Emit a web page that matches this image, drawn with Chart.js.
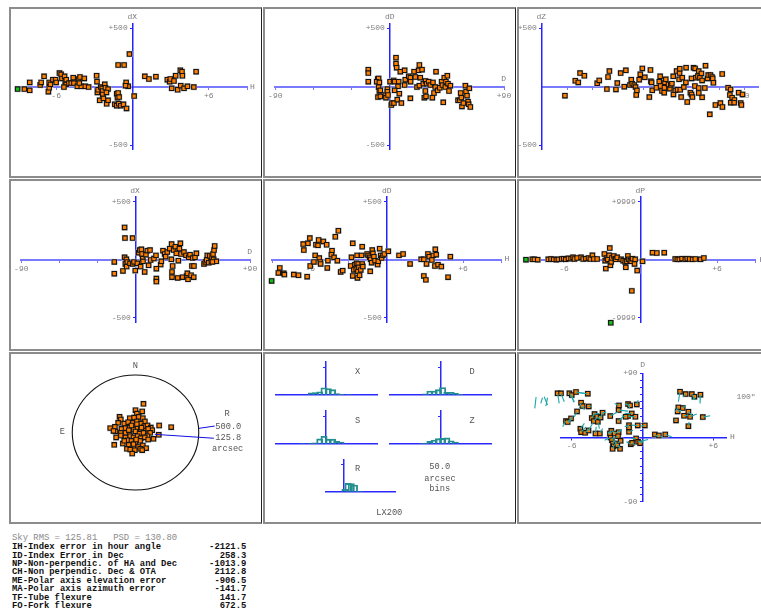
<!DOCTYPE html>
<html><head><meta charset="utf-8">
<script src="https://cdn.jsdelivr.net/npm/chart.js@4.4.1/dist/chart.umd.min.js"></script>
<style>
html,body{margin:0;padding:0;background:#fff}
body{position:relative;width:761px;height:612px;overflow:hidden;font-family:"Liberation Mono","DejaVu Sans Mono",monospace}
.panel{position:absolute;box-sizing:border-box;border-top:2px solid #8c8c8c;border-left:2px solid #8c8c8c;border-bottom:2px solid #8c8c8c;border-right:1px solid #222}
canvas{position:absolute}
.t{position:absolute;transform:translate(-50%,-50%);white-space:pre;line-height:1;color:#7a7a7a;font-size:8px}
.m{color:#555;font-size:8.7px}
#sky{position:absolute;left:12px;top:533.5px;font-size:8.9px;color:#8a8a8a;white-space:pre;line-height:1}
#stats{position:absolute;left:12px;top:543.1px;font-size:8.9px;line-height:8.43px;white-space:pre;color:#111;font-weight:bold}
</style></head><body>
<div id="sky"></div>
<div id="stats"></div>
<script>
// ---------------- DATA ----------------
// Panel 1: dX vs H (hours)
const p1H = [-8.50,-8.08,-8.08,-7.26,-7.18,-6.95,-6.61,-6.55,-6.55,-6.45,-6.26,-6.05,-6.00,-5.74,-5.61,-5.55,-5.34,-5.29,-5.21,-5.39,-5.21,-5.00,-4.82,-4.66,-4.61,-4.34,-4.24,-4.13,-4.03,-4.18,-3.79,-3.71,-3.45,-2.82,-2.79,-2.76,-2.71,-2.50,-2.39,-2.34,-2.18,-2.13,-1.92,-2.58,-2.34,-2.29,-2.05,-2.03,-1.92,-1.39,-1.24,-1.18,-1.13,-1.05,-1.24,-1.08,-0.92,-0.71,-0.47,-1.13,-0.66,-0.24,-0.50,-0.34,-0.55,0.13,0.97,1.29,1.84,2.74,2.92,2.97,3.26,3.39,3.76,3.89,3.92,5.00,3.08,3.55,3.79,4.05,4.32,4.82];
const p1dX = [-20,-31,37,14,37,89,-43,-9,37,20,60,60,37,117,106,71,89,43,20,-3,60,31,31,77,31,3,66,83,3,31,71,3,-3,94,43,-49,-26,-3,-14,-37,20,-9,-20,-117,-66,-100,-49,-146,-117,-151,-60,-94,-54,-89,-163,-146,-163,-151,-186,186,186,280,37,3,9,-80,89,66,86,60,43,66,49,94,140,129,94,129,-14,-26,9,-14,3,-3];
const p1FlagH = [-9.03], p1FlagdX = [-20];
// Panel 2: dD vs D (degrees)
const p2D = [-16.8,-16.8,-16.8,-9.4,-8.7,-10.2,-8.1,-8.7,-8.1,-7.3,-9.2,-7.3,-3.4,-2.9,-1.8,-1.8,-1.3,0.3,1.3,1.8,3.4,3.1,3.9,5.0,5.0,5.5,7.1,6.6,3.9,7.6,6.0,9.2,8.4,11.8,11.8,12.3,15.0,16.3,16.5,16.3,19.2,20.2,21.5,22.8,23.4,23.4,24.1,25.5,26.5,27.3,28.1,28.3,28.6,29.1,30.7,32.0,33.6,34.1,34.9,35.9,36.5,37.8,39.4,40.9,41.5,42.2,43.0,43.8,44.3,45.4,45.9,46.7,47.8,53.8,55.1,55.9,56.9,56.4,58.0,59.6,60.1,60.9,61.7,62.2,62.7,63.5];
const p2dD = [146,117,43,66,71,43,37,-3,-37,-31,-89,-83,-71,-94,-20,-43,-71,43,-157,-140,-140,54,43,249,197,163,43,3,-31,-60,-111,-140,129,140,14,60,89,77,43,-100,129,83,-3,140,186,9,77,146,26,-94,-37,49,-83,26,43,14,-94,37,-54,-3,129,-31,-9,43,14,-134,77,-3,43,94,26,-37,9,-117,-117,-54,-169,-94,-140,9,-43,-77,-129,-151,-14,-174];
// Panel 3: dZ vs zenith distance
const p3Z = [10.3,14.9,16.2,17.0,18.9,24.6,25.5,28.9,29.4,30.0,32.9,33.5,35.0,36.6,37.3,39.1,39.7,40.1,41.0,41.6,41.9,42.2,43.2,43.7,44.6,45.7,47.7,48.2,48.4,48.7,49.0,50.8,52.1,52.5,52.7,53.3,54.3,54.4,54.6,55.0,56.2,56.8,57.2,57.7,58.3,58.4,59.2,59.8,60.2,60.9,61.1,61.2,61.4,61.8,62.3,63.0,64.0,63.9,64.5,65.9,66.4,66.4,66.8,67.3,68.0,67.9,68.3,69.2,69.6,69.6,69.6,70.1,70.8,71.1,71.1,72.3,72.6,73.5,73.8,74.5,74.8,75.5,75.8,76.1,77.0,79.2,80.0,80.1,82.6,83.4,83.7,83.8,84.4,85.4,85.3,87.3,89.0,88.2,88.5];
const p3dZ = [-77,51,37,117,94,29,54,-20,83,134,-23,31,117,0,140,14,60,26,14,-3,-71,-31,60,106,157,80,-89,143,46,37,-31,-9,43,89,6,-37,-51,-9,37,63,20,-17,14,26,89,-66,-31,134,-26,63,117,154,-26,-89,77,-3,163,37,-131,-51,71,-66,-89,163,157,6,77,91,134,-11,-54,77,114,-91,54,-11,180,71,100,-237,100,83,71,34,-157,-140,109,-174,-9,-71,-23,-137,-94,-114,-137,-51,-66,-140,-157];
// Panel 4: dX vs D
const p4D = [-16.8,-16.8,-10.0,-8.7,-8.4,-8.7,-8.1,-7.3,-7.1,-6.6,-4.5,-2.4,-2.4,-1.3,-0.3,1.3,2.4,3.1,3.9,4.5,5.0,5.5,5.8,7.1,8.1,9.2,10.2,11.3,11.8,14.4,16.0,16.3,16.3,16.3,19.7,20.2,21.5,22.8,23.6,24.9,26.8,28.1,28.3,28.6,28.6,29.1,29.9,31.2,32.0,33.1,33.6,34.4,35.2,35.7,37.0,38.0,39.6,40.1,40.7,41.2,41.7,42.8,43.6,44.3,44.9,45.7,45.9,46.7,47.8,53.8,54.8,55.9,56.4,57.5,58.3,59.6,60.1,60.9,61.4,61.7,62.2,63.5,60.4];
const p4dX = [-20,-121,-98,279,187,20,-37,3,-60,-20,-32,-37,187,-20,-95,-32,60,83,-60,89,49,9,-14,-106,43,78,-49,83,-3,9,37,-78,-164,-190,-43,-14,78,49,26,66,95,3,135,-106,-152,-55,83,112,55,-158,-9,95,141,49,-152,66,37,-141,-118,-170,20,43,-135,-55,14,-152,-55,20,55,-37,-20,-3,37,-26,32,-14,20,49,3,83,118,-14,-20];
// Panel 5: dD vs H
const p5H = [-8.50,-8.39,-8.08,-8.03,-7.29,-6.92,-6.55,-6.50,-6.24,-6.18,-6.03,-6.00,-5.71,-5.61,-5.55,-5.39,-5.34,-5.29,-5.21,-5.18,-4.97,-4.71,-4.66,-4.61,-4.29,-4.34,-4.13,-4.03,-3.87,-3.79,-3.61,-3.45,-2.76,-2.66,-2.82,-2.66,-2.58,-2.50,-2.39,-2.37,-2.32,-2.29,-2.26,-2.24,-2.18,-2.13,-2.03,-1.97,-1.92,-1.92,-1.87,-1.53,-1.45,-1.29,-1.34,-1.26,-1.18,-1.13,-1.08,-1.00,-0.92,-0.71,-0.66,-0.55,-0.47,-0.39,-0.29,-0.18,0.13,0.97,1.29,1.84,2.71,2.92,2.92,3.08,3.13,3.24,3.34,3.55,3.66,3.82,3.79,3.89,4.03,4.29,4.82,5.00];
const p5dD = [-115,-72,-118,-129,-129,-135,135,83,-147,141,187,-55,-20,37,129,124,170,14,-20,-37,158,129,-72,-9,78,43,20,198,-9,250,-106,-95,20,141,-55,-141,-89,-43,-83,-32,37,-158,-101,-37,-66,-135,-89,37,112,-37,-60,49,37,-101,20,3,-26,83,55,26,-9,-43,-14,95,37,14,37,49,72,37,49,-37,3,3,-141,-175,-37,49,26,-3,37,89,-55,43,-43,-60,-152,26];
const p5FlagH = [-9.03], p5FlagdD = [-184];
// Panel 6: dP vs H
const p6H = [-8.48,-8.32,-8.06,-7.23,-7.02,-6.81,-6.60,-6.44,-6.18,-6.02,-5.86,-5.65,-5.45,-5.29,-5.18,-4.97,-4.66,-4.50,-4.29,-4.08,-3.93,-3.77,-3.66,-3.40,-2.83,-2.77,-2.72,-2.67,-2.57,-2.41,-2.36,-2.46,-2.30,-2.25,-2.09,-1.99,-1.94,-1.83,-1.52,-1.36,-1.20,-1.15,-1.07,-0.99,-0.94,-0.81,-0.73,-0.63,-0.47,-0.42,-0.26,0.16,-0.68,0.94,1.28,1.86,2.72,2.88,3.04,3.25,3.51,3.66,3.85,4.08,4.29,4.71,4.97];
const p6dP = [57,57,0,57,115,57,0,57,115,172,57,230,172,402,115,287,402,115,172,287,115,747,115,115,977,-172,-1552,287,57,2011,-977,747,-402,287,632,172,57,402,57,-172,-402,-1322,-287,632,57,-172,-287,172,-747,57,-1897,-287,-5402,1207,1149,1207,115,57,57,172,57,172,115,57,115,57,287];
const p6FlagH = [-8.98,-2.33], p6FlagdP = [0,-10919];
// Panel 7: sky scatter (arcsec)
const p7X = [63,0,53,11,-126,-116,-45,-11,26,58,74,-137,-89,-58,-21,11,42,68,95,121,132,187,282,-200,-163,-158,-111,-79,-47,-16,16,42,74,100,116,-174,-116,-79,-47,0,32,63,95,184,142,-153,-116,-79,-42,-16,16,42,74,100,-63,-32,0,37,-100,-168,-53,-16,21,58,84,-68,-42,-5,37,53,-26,-16,5,-53,-32,11,47,-89];
const p7Y = [249,194,183,165,136,113,125,130,136,125,96,84,78,90,84,96,78,55,61,43,20,61,46,38,49,9,32,38,43,26,43,26,14,32,-3,14,-3,-3,3,9,-9,-3,-32,-20,-55,-43,-26,-43,-32,-43,-32,-49,-43,-61,-67,-72,-84,-72,-96,-107,-107,-119,-125,-113,-136,-142,-148,-154,-142,-154,-183,-101,-61,20,61,72,43,-72];
const p7Rings = [500.0, 125.8];
// Panel 8: histograms (50 arcsec bins)
const histBins = [-375,-325,-275,-225,-175,-125,-75,-25,25,75,125,175,225,275,325,375];
const histX = [0,0,0,0,8,9,13,30,27,22,5,2,0,1,0,0];
const histD = [0,0,0,0,4,16,16,22,31,10,11,6,2,0,0,0];
const histS = [0,0,1,0,3,4,21,32,20,20,10,7,0,0,0,0];
const histZ = [0,0,0,1,3,10,16,22,23,25,13,7,0,0,0,0];
const rBins = [25,75,125,175,225,275,325,375,425,475,525];
const histR = [11,37,36,30,1,1,0,0,0,0,0];
const binWidth = 50;
const nStars = 118;
// Panel 9: residual vectors on H/D map
const p9H = [-9.01,-8.47,-8.32,-8.04,-7.19,-6.90,-6.19,-5.99,-5.63,-4.63,-5.20,-5.06,-4.55,-5.54,-6.05,-6.48,-6.34,-5.26,-5.20,-4.86,-4.57,-3.98,-3.61,-4.29,-4.12,-4.06,-3.84,-3.78,-3.55,-3.38,-2.73,-2.02,-1.99,-2.02,-1.22,-1.05,-0.91,-1.22,-1.42,-0.60,-0.48,-1.14,-1.14,-1.14,-0.40,0.20,-2.64,-2.76,-2.70,-2.59,-2.50,-2.44,-2.22,-2.53,-1.90,-2.13,-1.85,-2.36,-2.02,-2.07,-0.99,-0.88,-0.54,-0.37,-0.20,1.05,1.39,1.93,3.18,3.66,4.18,4.40,4.91,3.04,2.98,3.41,3.89,3.52,4.03,5.11,2.84,3.89];
const p9D = [56.7,55.8,57.2,55.8,61.9,61.9,61.9,59.5,63.8,61.4,48.8,44.1,43.6,36.6,26.7,23.0,21.6,12.2,7.5,6.6,9.8,5.6,5.6,27.2,23.0,32.8,29.1,22.0,28.1,34.7,30.0,23.0,45.0,38.4,46.9,45.0,33.8,30.0,29.1,29.1,46.4,17.3,8.0,14.1,16.9,16.9,9.4,5.6,0,-3.8,-8.4,-12.2,-8.4,-15.9,-15.9,-10.8,-4.7,5.6,7.5,1.9,-9.4,-7.5,-1.4,-6.1,-8.0,4.2,2.8,4.2,64.2,60.9,60.9,57.2,60.0,42.2,36.6,41.3,36.1,30.5,29.1,28.6,23.9,15.9];
const p9vH = [-0.11,-0.14,0.28,-0.14,0.14,0.28,0.43,0.17,0.71,-0.71,-0.14,0.14,0.23,-0.23,-0.14,-0.28,0.43,0.34,0.43,0.28,0.37,0.06,0.23,0.23,0.34,0.43,0.28,0.14,0.20,0.31,0.65,0.37,-0.37,0.80,0.14,-0.43,-0.60,0.43,-0.34,-0.28,0.11,-0.37,0.34,-0.28,-0.54,-0.34,-0.28,0.34,-0.51,0.17,0.14,0.23,-0.17,0.11,-0.14,0.23,-0.23,0.57,0.28,-0.17,-0.37,0.23,-0.40,0.85,0.28,0.28,0.28,0.54,-0.14,-0.23,0.28,-0.11,-0.03,-0.28,0.28,0.28,0.28,0.37,0.57,0.63,-0.14,0.06];
const p9vD = [-15.9,-8.0,-11.7,-11.7,-14.1,-11.7,-11.7,-10.3,-1.9,1.4,-8.0,-5.6,0,-7.5,-6.1,-8.0,7.5,7.5,7.5,4.7,10.8,9.4,7.0,6.6,6.1,0.9,-3.8,-9.4,6.6,0.9,6.1,6.1,2.8,-1.4,-6.1,2.3,0,-0.9,1.4,0,6.1,-2.3,2.3,1.9,0.5,-0.9,-3.8,3.8,-3.8,4.7,5.6,4.7,3.8,4.7,5.6,-3.8,-2.8,4.7,3.8,-1.9,3.3,-2.8,0,3.3,2.3,-3.3,-1.9,-3.3,-14.1,-3.8,-8.4,-4.7,-12.2,-6.1,1.4,3.8,-4.7,0.9,3.8,1.9,1.4,6.1];
// Tick values / labels
const hTicks = [-9,-6,-3,3,6,9], hTickLabels = ['','-6','','','+6',''];
const dTicks = [-90,-60,-30,30,60,90], dTickLabels = ['-90','','','','','+90'];
const arcTicks = [-500,500], arcTickLabels = ['-500','+500'];
const zTicks = [11.25,22.5,33.75,45,56.25,67.5,78.75,90], zTickLabels = ['','','','','','','','90'];
const pTicks = [-9999,9999], pTickLabels = ['-9999','+9999'];
const mapHTicks = [-6,6], mapHTickLabels = ['-6','+6'];
const mapDTicks = [-90,-80,-70,-60,-50,-40,-30,-20,-10,10,20,30,40,50,60,70,80,90];
const mapDTickLabels = ['-90','','','','','','','','','','','','','','','','','+90'];
// Fit statistics
const skyRms = '125.81', psd = '130.80';
const statTerms = ['IH-Index error in hour angle','ID-Index Error in Dec','NP-Non-perpendic. of HA and Dec','CH-Non perpendic. Dec & OTA','ME-Polar axis elevation error','MA-Polar axis azimuth error','TF-Tube flexure','FO-Fork flexure'];
const statValues = ['-2121.5','258.3','-1013.9','2112.8','-906.5','-141.7','141.7','672.5'];

// ---------------- LAYOUT ----------------
const FONT = {family:'Liberation Mono', size:8};
const LIGHT = '#7a7aff', DARK = '#2424ff', TEAL = '#238f8f';
Chart.defaults.font.family = 'Liberation Mono';

document.getElementById('sky').textContent = 'Sky RMS = ' + skyRms + '   PSD = ' + psd;
document.getElementById('stats').textContent = statTerms.map((t,i)=>t.padEnd(37)+statValues[i].padStart(7)).join('\n');

const panels = [[9,7,253,171],[263,7,253,171],[517,7,253,171],[9,179,253,172],[263,179,253,172],[517,179,253,172],[9,352,253,172],[263,352,253,172],[517,352,253,172]];
panels.forEach(b=>{const d=document.createElement('div');d.className='panel';Object.assign(d.style,{left:b[0]+'px',top:b[1]+'px',width:b[2]+'px',height:b[3]+'px'});document.body.appendChild(d);});

function mkChart(box, area, config) {
  const c = document.createElement('canvas');
  c.width = box[2]; c.height = box[3];
  Object.assign(c.style,{left:box[0]+'px',top:box[1]+'px',width:box[2]+'px',height:box[3]+'px'});
  document.body.appendChild(c);
  const pad = {left:area[0]-box[0], top:area[1]-box[1], right:box[0]+box[2]-area[2], bottom:box[1]+box[3]-area[3]};
  config.options = Object.assign({responsive:false, animation:false, events:[],
    layout:{padding:pad, autoPadding:false},
    plugins:{legend:{display:false}, tooltip:{enabled:false}, title:{display:false}}}, config.options);
  return new Chart(c, config);
}
function lab(ticks, labels, suffix) {
  return v => { const i = ticks.indexOf(v); return i < 0 || !labels[i] ? '' : labels[i] + (suffix||''); };
}
function hAxis(min, max, ticks, labels, color, width) {
  return {type:'linear', min, max, position:{y:0},
    afterBuildTicks: s => { s.ticks = ticks.map(v=>({value:v})); },
    grid:{display:true, drawOnChartArea:false, tickLength:2, color, lineWidth:1},
    border:{display:true, color, width},
    ticks:{autoSkip:false, maxRotation:0, minRotation:0, padding:2, color:'#808080', font:FONT, callback:lab(ticks, labels)}};
}
function vAxis(min, max, ticks, labels, color, width) {
  return {type:'linear', min, max, position:{x:0},
    afterBuildTicks: s => { s.ticks = ticks.map(v=>({value:v})); },
    grid:{display:true, drawOnChartArea:false, tickLength:2, color, lineWidth:1},
    border:{display:true, color, width},
    ticks:{autoSkip:false, padding:2, color:'#808080', font:FONT, callback:lab(ticks, labels, ' ')}};
}
function markers(xs, ys, fill) {
  const mk = () => xs.map((x,i)=>({x, y:ys[i]}));
  return [
    {data:mk(), order:1, pointStyle:'rect', pointRadius:3.1, backgroundColor:fill, borderColor:'#141414', borderWidth:1.1, clip:false},
    {data:mk(), order:3, pointStyle:'rect', pointRadius:4.5, backgroundColor:'#c4c4c4', borderWidth:0, clip:false}
  ];
}
const ORANGE = '#ff7f00', GREEN = '#12c012';

function scatterPanel(box, area, xs, ys, flags, xa, ya) {
  let ds = markers(xs, ys, ORANGE);
  if (flags) ds = markers(flags[0], flags[1], GREEN).concat(ds);
  return mkChart(box, area, {type:'scatter', data:{datasets:ds}, options:{scales:{x:xa, y:ya}}});
}

// Row 1
scatterPanel(panels[0], [18,23.7,247,149.7], p1H, p1dX, [p1FlagH,p1FlagdX],
  hAxis(-9,9,hTicks,hTickLabels,LIGHT,2), vAxis(-540,540,arcTicks,arcTickLabels,DARK,1.5));
scatterPanel(panels[1], [275.3,23.7,504,149.7], p2D, p2dD, null,
  hAxis(-90,90,dTicks,dTickLabels,LIGHT,2), vAxis(-540,540,arcTicks,arcTickLabels,DARK,1.5));
scatterPanel(panels[2], [541.7,23.7,758.3,149.7], p3Z, p3dZ, null,
  hAxis(0,96,zTicks,zTickLabels,LIGHT,2), vAxis(-540,540,arcTicks,arcTickLabels,DARK,1.5));
// Row 2
scatterPanel(panels[3], [21.3,197,250,322.3], p4D, p4dX, null,
  hAxis(-90,90,dTicks,dTickLabels,LIGHT,2), vAxis(-542,542,arcTicks,arcTickLabels,DARK,1.5));
scatterPanel(panels[4], [272,197,501.3,322.3], p5H, p5dD, [p5FlagH,p5FlagdD],
  hAxis(-9,9,hTicks,hTickLabels,LIGHT,2), vAxis(-542,542,arcTicks,arcTickLabels,DARK,1.5));
scatterPanel(panels[5], [525.7,197,755.3,322.3], p6H, p6dP, [p6FlagH,p6FlagdP],
  hAxis(-9,9,hTicks,hTickLabels,LIGHT,2), vAxis(-10840,10840,pTicks,pTickLabels,DARK,1.5));

// Row 3, panel 7: sky scatter with rings
const ringPlugin = {id:'rings', beforeDatasetsDraw(chart){
  const {ctx, scales:{x, y}} = chart;
  const cx = x.getPixelForValue(0), cy = y.getPixelForValue(0);
  ctx.save();
  p7Rings.forEach((r,i)=>{
    ctx.beginPath();
    ctx.ellipse(cx, cy, x.getPixelForValue(r)-cx, cy-y.getPixelForValue(r), 0, 0, Math.PI*2);
    ctx.strokeStyle = i===0 ? '#111' : '#666'; ctx.lineWidth = i===0 ? 1.1 : 0.7;
    ctx.stroke();
  });
  ctx.restore();
}};
mkChart(panels[6], [9,352,262,513], {type:'scatter',
  data:{datasets: markers(p7X, p7Y, ORANGE).concat([
    {data:[{x:p7Rings[0],y:36},{x:626,y:56}], showLine:true, pointRadius:0, borderColor:'#1010e0', borderWidth:1, order:0, clip:false},
    {data:[{x:152,y:-16},{x:620,y:-50}], showLine:true, pointRadius:0, borderColor:'#1010e0', borderWidth:1, order:0, clip:false}
  ])},
  options:{scales:{x:{type:'linear',min:-1000,max:1000,display:false}, y:{type:'linear',min:-700,max:700,display:false}}},
  plugins:[ringPlugin]});

// Panel 8: histograms
function histChart(area, bins, counts, xmin, xmax) {
  const box = [Math.floor(area[0])-6, Math.floor(area[1])-6, Math.ceil(area[2]-area[0])+13, Math.ceil(area[3]-area[1])+13];
  const ax = '#2a2aff';
  const thick = (area[2]-area[0]) * binWidth / (xmax - xmin);
  return mkChart(box, area, {type:'bar',
    data:{datasets:[{data: bins.map((b,i)=>({x:b, y: counts[i] || null})), backgroundColor:'rgba(255,255,255,0)', borderColor:TEAL, borderWidth:1.2, borderSkipped:'start', barThickness:thick, clip:false}]},
    options:{scales:{
      x:{type:'linear', min:xmin, max:xmax, position:{y:0}, grid:{display:false}, ticks:{display:false}, border:{display:true,color:ax,width:1.5}},
      y:{type:'linear', min:0, max:139, position:{x:0}, afterBuildTicks:s=>{s.ticks=[{value:nStars}];},
         grid:{display:true, drawOnChartArea:false, tickLength:2, color:ax}, ticks:{callback:()=>''}, border:{display:true,color:ax,width:1.5}}}}});
}
histChart([275.3,358.3,377,397.7], histBins, histX, -400, 400);
histChart([389.7,358.3,491.3,397.7], histBins, histD, -400, 400);
histChart([275.3,407.3,377,447], histBins, histS, -400, 400);
histChart([389.7,407.3,491.3,447], histBins, histZ, -400, 400);
histChart([326,456.7,395.3,495.7], rBins, histR, 0, 545);

// Panel 9: vector map (one 2-point line per star, drawn over the markers)
const vecSets = p9H.map((h,i)=>({data:[{x:h,y:p9D[i]},{x:h+p9vH[i], y:p9D[i]+p9vD[i]}], showLine:true, pointRadius:0, borderColor:'#1ea6a6', borderWidth:1.1, order:0, clip:false}));
mkChart(panels[8], [561,373.3,726.3,501.7], {type:'scatter',
  data:{datasets: markers(p9H, p9D, ORANGE).concat(vecSets)},
  options:{scales:{x:hAxis(-6.9,7.1,mapHTicks,mapHTickLabels,DARK,1.5), y:vAxis(-90,90,mapDTicks,mapDTickLabels,DARK,1.5)}}});

// Text labels
const texts = [
  ['dX',132.3,17.3,''],['H',252.5,87,''],['dD',389.7,17.3,''],['D',503.7,79,''],['dZ',541.3,17.3,''],
  ['dX',135,190.7,''],['D',249.7,252,''],['dD',386.7,190.7,''],['H',507,259.3,''],['dP',640.3,190.7,''],['H',762,259.7,''],
  ['N',135.3,365.7,'m'],['E',62.3,432.3,'m'],['R',227,414.3,'m'],['500.0',228.3,426.7,'m'],['125.8',228.3,437.7,'m'],['arcsec',227.7,449.3,'m'],
  ['X',357.7,372.3,'m'],['D',472,372.3,'m'],['S',357.7,420.7,'m'],['Z',472,420.7,'m'],['R',357.7,469,'m'],
  ['50.0',439.7,466.7,'m'],['arcsec',440,478.7,'m'],['bins',439.7,489.3,'m'],['LX200',389.3,512.7,'m'],
  ['D',642.7,365,''],['H',732.3,437.3,''],['100"',746,396.7,'']
];
texts.forEach(([s,x,y,c])=>{const d=document.createElement('div');d.className='t '+c;d.textContent=s;d.style.left=x+'px';d.style.top=y+'px';document.body.appendChild(d);});
</script>
</body></html>
